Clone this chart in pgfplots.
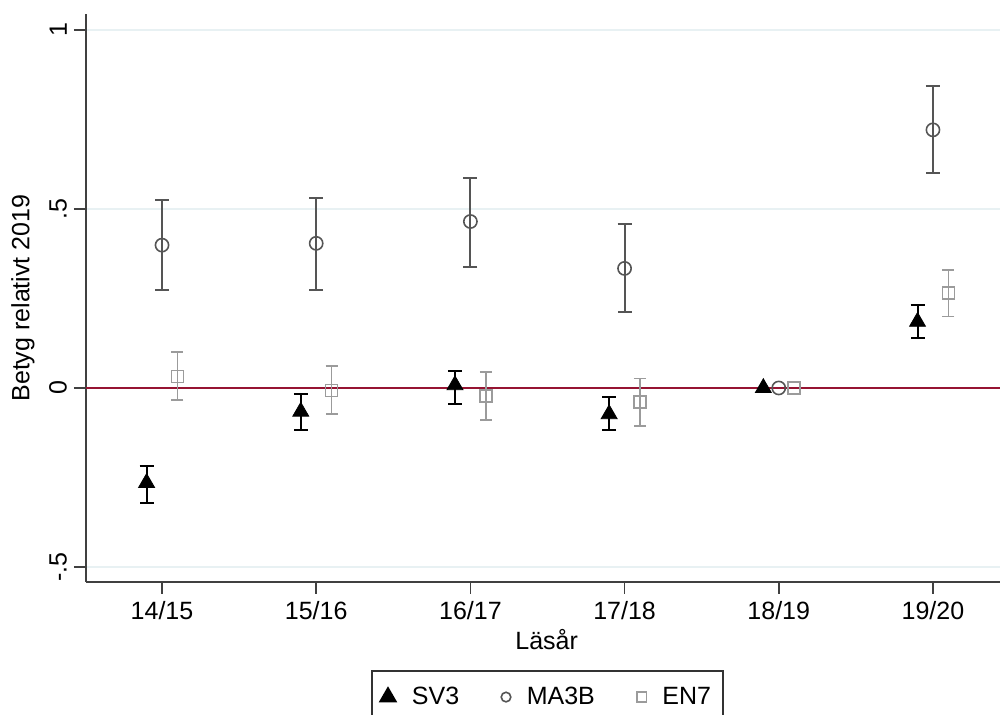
\documentclass[border=0pt]{standalone}
\usepackage{fontspec}
\setmainfont{Liberation Sans}
\usepackage{pgfplots}
\pgfplotsset{compat=1.18}
\usepackage{pgfplotstable}

\definecolor{gridc}{RGB}{232,241,243}
\definecolor{refline}{RGB}{150,20,50}
\definecolor{madark}{RGB}{85,85,85}
\definecolor{enlight}{RGB}{155,155,155}

% estimates with 95% bounds, x = school year index + offset
\pgfplotstableread{
x     y       lo      hi
-0.1  -0.265  -0.320  -0.218
0.9   -0.066  -0.117  -0.017
1.9    0.008  -0.046   0.048
2.9   -0.073  -0.117  -0.024
4.9    0.185   0.140   0.232
}\svtab
\pgfplotstableread{
x     y       lo      hi
0.0    0.399   0.274   0.525
1.0    0.404   0.274   0.531
2.0    0.465   0.339   0.586
3.0    0.334   0.211   0.458
5.0    0.721   0.600   0.844
}\matab
\pgfplotstableread{
x     y       lo      hi
0.1    0.032  -0.034   0.100
1.1   -0.007  -0.073   0.062
2.1   -0.022  -0.089   0.044
3.1   -0.040  -0.106   0.027
5.1    0.266   0.200   0.330
}\entab

\newcommand{\chartfont}{\fontsize{12.5}{15}\selectfont}

\begin{document}
\begin{tikzpicture}
\begin{axis}[
  name=ax, at={(0,0)}, anchor=south west,
  scale only axis, width=457pt, height=284pt,
  xmin=-0.493, xmax=5.435, ymin=-0.542, ymax=1.0447,
  axis x line*=bottom, axis y line*=left,
  axis line style={black!75, line width=0.8pt, -},
  xtick={0,...,5}, xticklabels={14/15,15/16,16/17,17/18,18/19,19/20},
  ytick={-0.5,0,0.5,1}, yticklabels={-.5,0,.5,1},
  yticklabel style={rotate=90, anchor=south},
  tick align=outside, major tick length=6pt,
  tick style={black!75, line width=0.8pt},
  ymajorgrids, grid style={gridc, line width=0.6pt},
  tick label style={font=\chartfont},
  label style={font=\chartfont},
  xlabel={Läsår}, ylabel={Betyg relativt 2019},
  xlabel style={at={(axis description cs:0.504,-0.102)}, anchor=center},
  ylabel style={at={(axis description cs:-0.069,0.5)}, anchor=center},
  legend columns=3,
  legend style={at={(axis description cs:0.505,-0.155)}, anchor=north,
    draw=black!80, line width=0.8pt, font=\chartfont, inner ysep=6pt, inner xsep=4pt,
    /tikz/column 1/.style={column sep=6pt},
    /tikz/column 2/.style={column sep=19pt},
    /tikz/column 3/.style={column sep=6pt},
    /tikz/column 4/.style={column sep=19pt},
    /tikz/column 5/.style={column sep=6pt},
    /tikz/column 6/.style={column sep=5pt}},
  error bars/y dir=both, error bars/y explicit,
]
% reference line at zero
\addplot[refline, line width=1pt, forget plot] coordinates {(-0.493,0) (5.435,0)};

\addplot[only marks, mark=triangle*, mark size=4.6pt, black,
  error bars/error bar style={black, line width=1pt},
  error bars/error mark options={black, line width=1pt, mark size=3.5pt, rotate=90}]
  table[x=x, y=y, y error plus expr=\thisrow{hi}-\thisrow{y},
        y error minus expr=\thisrow{y}-\thisrow{lo}] {\svtab};
\addlegendentry{SV3}

\addplot[only marks, mark=o, mark size=3.3pt, madark, mark options={line width=0.8pt},
  legend image post style={mark size=2.4pt},
  error bars/error bar style={madark, line width=1pt},
  error bars/error mark options={madark, line width=1pt, mark size=3.5pt, rotate=90}]
  table[x=x, y=y, y error plus expr=\thisrow{hi}-\thisrow{y},
        y error minus expr=\thisrow{y}-\thisrow{lo}] {\matab};
\addlegendentry{MA3B}

\addplot[only marks, mark=square, mark size=3pt, enlight, mark options={line width=0.8pt},
  legend image post style={mark size=2.4pt},
  error bars/error bar style={enlight, line width=0.8pt},
  error bars/error mark options={enlight, line width=0.8pt, mark size=3pt, rotate=90}]
  table[x=x, y=y, y error plus expr=\thisrow{hi}-\thisrow{y},
        y error minus expr=\thisrow{y}-\thisrow{lo}] {\entab};
\addlegendentry{EN7}

% base year 18/19, no intervals
\addplot[only marks, mark=triangle*, mark size=4.6pt, black, forget plot]
  coordinates {(3.9,0)};
\addplot[only marks, mark=o, mark size=3.3pt, madark, mark options={line width=0.8pt}, forget plot]
  coordinates {(4.0,0)};
\addplot[only marks, mark=square, mark size=3pt, enlight, mark options={line width=0.8pt}, forget plot]
  coordinates {(4.1,0)};
\end{axis}
\pgfresetboundingbox
\path[use as bounding box] (-43pt,-66.5pt) rectangle (457pt,291pt);
\end{tikzpicture}
\end{document}
